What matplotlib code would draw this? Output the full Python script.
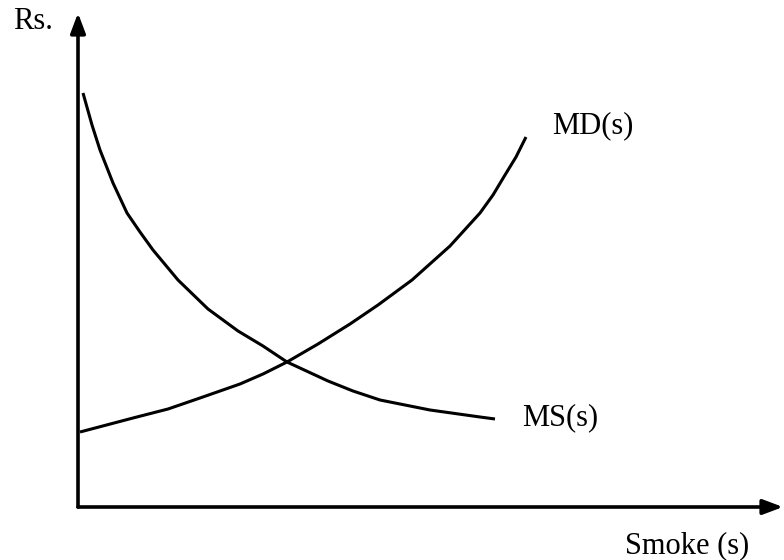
import matplotlib
matplotlib.use("Agg")
import matplotlib.pyplot as plt

plt.rcParams["font.family"] = ["Liberation Serif", "DejaVu Serif"]

# curve points (smoke quantity, price in Rs.)
ms_x = [5, 14, 22, 35, 49, 62, 75, 100, 130, 160, 185, 209, 250, 275, 302, 352, 402, 417]
ms_y = [414, 382, 357, 324, 294, 275, 257, 227, 198, 176, 161, 145, 126, 116, 107, 97, 90, 88]

md_x = [2, 55, 90, 122, 162, 185, 209, 240, 272, 300, 334, 372, 402, 415, 427, 438, 448]
md_y = [75, 89, 98, 109, 123, 133, 145, 163, 183, 202, 227, 261, 294, 312, 332, 350, 370]

x_label = "Smoke (s)"
y_label = "Rs."
ms_label = "MS(s)"
md_label = "MD(s)"

fig = plt.figure(figsize=(7.84, 5.6), dpi=100)
ax = fig.add_axes([0, 0, 1, 1])
ax.set_xlim(-78, 706)
ax.set_ylim(-53, 507)
ax.axis("off")

# axes with arrow heads
arrow = dict(arrowstyle="-|>,head_length=1.2,head_width=0.45", lw=2.6,
             color="black", mutation_scale=10, shrinkA=0, shrinkB=0)
ax.annotate("", xy=(0, 494), xytext=(0, 0), arrowprops=arrow)
ax.annotate("", xy=(705, 0), xytext=(0, 0), arrowprops=arrow)

ax.plot(ms_x, ms_y, color="black", lw=2.2, solid_capstyle="butt", solid_joinstyle="round")
ax.plot(md_x, md_y, color="black", lw=2.2, solid_capstyle="butt", solid_joinstyle="round")

ax.text(-65, 478, y_label, fontsize=22, ha="left", va="baseline")
ax.text(547, -46, x_label, fontsize=22, ha="left", va="baseline")
ax.text(474, 374, md_label, fontsize=22, ha="left", va="baseline")
ax.text(444, 82, ms_label, fontsize=22, ha="left", va="baseline")

fig.savefig("out.png", dpi=100)
